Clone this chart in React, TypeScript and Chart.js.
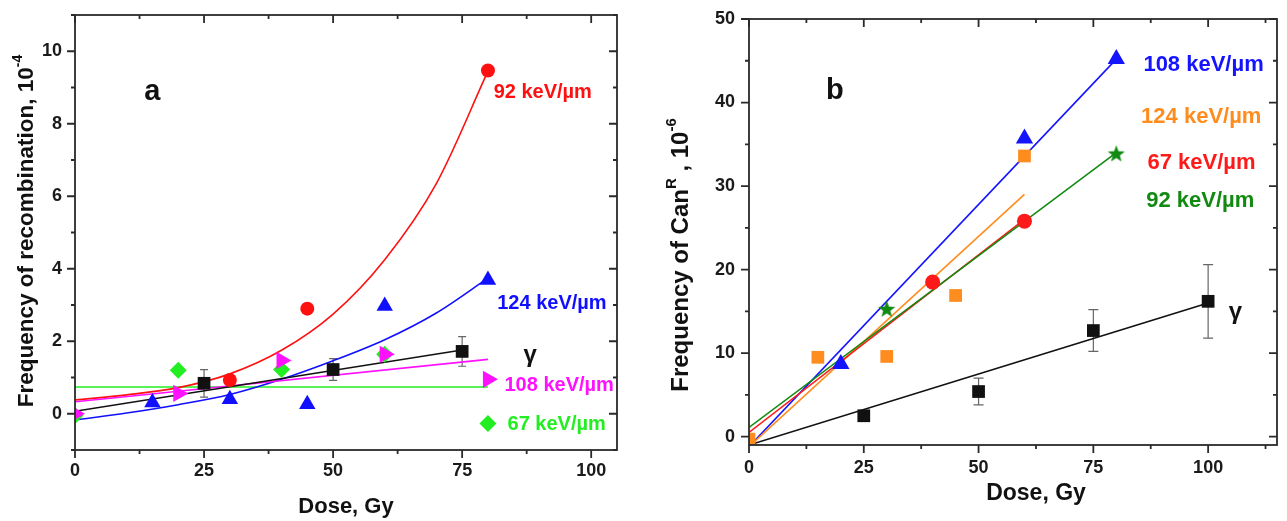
import React, { useEffect, useRef } from "react";
import { Chart, registerables } from "chart.js";
Chart.register(...registerables);

// ---------------- Panel a : frequency of recombination ----------------
const aTickX = [0, 25, 50, 75, 100];
const aTickY = [0, 2, 4, 6, 8, 10];

const a92X = [30, 45, 80];
const a92Y = [0.93, 2.9, 9.47];
const a92FitX = [0, 10, 20, 30, 40, 50, 60, 70, 80];
const a92FitY = [0.38, 0.52, 0.72, 1.1, 1.75, 2.75, 4.25, 6.35, 9.45];

const a124X = [15, 30, 45, 60, 80];
const a124Y = [0.31, 0.4, 0.26, 2.97, 3.69];
const a124FitX = [0, 10, 20, 30, 40, 50, 60, 70, 80];
const a124FitY = [-0.17, 0.02, 0.25, 0.53, 0.95, 1.46, 2.04, 2.78, 3.74];

const a108X = [0, 20, 40, 60, 80];
const a108Y = [0, 0.56, 1.47, 1.64, 0.95];
const a108FitX = [0, 80];
const a108FitY = [0.33, 1.5];

const a67X = [0, 20, 40, 60, 80];
const a67Y = [-0.05, 1.2, 1.22, 1.64, -0.27];
const a67FitX = [0, 80];
const a67FitY = [0.74, 0.74];

const aGammaX = [25, 50, 75];
const aGammaY = [0.84, 1.22, 1.72];
const aGammaErr = [0.38, 0.3, 0.41];
const aGammaFitX = [0, 75];
const aGammaFitY = [0.07, 1.76];

// ---------------- Panel b : frequency of CanR ----------------
const bTickX = [0, 25, 50, 75, 100];
const bTickY = [0, 10, 20, 30, 40, 50];

const b108X = [20, 60, 80];
const b108Y = [8.7, 35.7, 45.2];
const b108FitX = [0, 80];
const b108FitY = [-1.2, 45.2];

const b124X = [0, 15, 30, 45, 60];
const b124Y = [-0.3, 9.5, 9.6, 16.9, 33.6];
const b124FitX = [0, 60];
const b124FitY = [-1.2, 29.0];

const b67X = [40, 60];
const b67Y = [18.5, 25.8];
const b67FitX = [0, 60];
const b67FitY = [0.5, 26.0];

const b92X = [30, 80];
const b92Y = [15.3, 33.9];
const b92FitX = [0, 80];
const b92FitY = [1.1, 34.0];

const bGammaX = [25, 50, 75, 100];
const bGammaY = [2.5, 5.4, 12.7, 16.2];
const bGammaErr = [0.4, 1.6, 2.5, 4.4];
const bGammaFitX = [0, 100];
const bGammaFitY = [-1.0, 16.0];

// ---------------- helpers ----------------
const FONT = "'Liberation Sans', Arial, sans-serif";
const pts = (xs: number[], ys: number[]) => xs.map((x, i) => ({ x, y: ys[i] }));

const fitDs = (xs: number[], ys: number[], color: string, width = 1.6) => ({
  type: "line",
  data: pts(xs, ys),
  borderColor: color,
  borderWidth: width,
  pointRadius: 0,
  fill: false,
  cubicInterpolationMode: "monotone",
  showLine: true,
});

const markDs = (xs: number[], ys: number[], color: string, style: any, r: number, rot = 0) => ({
  type: "scatter",
  data: pts(xs, ys),
  backgroundColor: color,
  borderColor: color,
  borderWidth: 0,
  pointStyle: style,
  pointRadius: r,
  pointRotation: rot,
  showLine: false,
});

function makeStar(size: number, color: string) {
  const c = document.createElement("canvas");
  c.width = size;
  c.height = size;
  const g = c.getContext("2d")!;
  g.fillStyle = color;
  g.beginPath();
  const cx = size / 2, cy = size / 2 + 0.8, R = size / 2, r = R * 0.42;
  for (let i = 0; i < 10; i++) {
    const ang = -Math.PI / 2 + (i * Math.PI) / 5;
    const rad = i % 2 === 0 ? R : r;
    g.lineTo(cx + rad * Math.cos(ang), cy + rad * Math.sin(ang));
  }
  g.closePath();
  g.fill();
  return c;
}

type Label = { text: string; x: number; y: number; color: string; size: number; align?: CanvasTextAlign };
type Deco = {
  xMinor: number;
  yMinor: number;
  xMajor: number[];
  yMajor: number[];
  errors: { xs: number[]; ys: number[]; errs: number[]; cap: number }[];
  labels: Label[];
  xTitle: { text: string; x: number; y: number; size: number };
  yTitle: { parts: { t: string; sup?: boolean }[]; x: number; y: number; size: number };
};

function makeDeco(cfg: Deco) {
  return {
    id: "deco",
    beforeDatasetsDraw(chart: any) {
      const { ctx } = chart;
      const xs = chart.scales.x, ys = chart.scales.y;
      ctx.save();
      ctx.strokeStyle = "#666";
      ctx.lineWidth = 1.2;
      for (const e of cfg.errors) {
        e.xs.forEach((xv, i) => {
          const px = xs.getPixelForValue(xv);
          const t = ys.getPixelForValue(e.ys[i] + e.errs[i]);
          const b = ys.getPixelForValue(e.ys[i] - e.errs[i]);
          ctx.beginPath();
          ctx.moveTo(px, t);
          ctx.lineTo(px, b);
          ctx.moveTo(px - e.cap, t);
          ctx.lineTo(px + e.cap, t);
          ctx.moveTo(px - e.cap, b);
          ctx.lineTo(px + e.cap, b);
          ctx.stroke();
        });
      }
      ctx.restore();
    },
    afterDraw(chart: any) {
      const { ctx, chartArea } = chart;
      const { left, right, top, bottom } = chartArea;
      const xs = chart.scales.x, ys = chart.scales.y;
      ctx.save();
      ctx.strokeStyle = "#2a2a2a";
      ctx.lineWidth = 1.8;
      ctx.strokeRect(left, top, right - left, bottom - top);
      ctx.beginPath();
      const isMajor = (arr: number[], v: number) => arr.some((m) => Math.abs(m - v) < 1e-6);
      for (let v = Math.ceil(xs.min / cfg.xMinor) * cfg.xMinor; v <= xs.max + 1e-9; v += cfg.xMinor) {
        const L = isMajor(cfg.xMajor, v) ? 8 : 4;
        const p = xs.getPixelForValue(v);
        ctx.moveTo(p, bottom);
        ctx.lineTo(p, bottom + L);
        ctx.moveTo(p, top);
        ctx.lineTo(p, top + L);
      }
      for (let v = Math.ceil(ys.min / cfg.yMinor) * cfg.yMinor; v <= ys.max + 1e-9; v += cfg.yMinor) {
        const L = isMajor(cfg.yMajor, v) ? 8 : 4;
        const p = ys.getPixelForValue(v);
        ctx.moveTo(left, p);
        ctx.lineTo(left - L, p);
        ctx.moveTo(right, p);
        ctx.lineTo(right - L, p);
      }
      ctx.stroke();

      ctx.textBaseline = "middle";
      for (const l of cfg.labels) {
        ctx.font = `bold ${l.size}px ${FONT}`;
        ctx.fillStyle = l.color;
        ctx.textAlign = l.align || "left";
        ctx.fillText(l.text, xs.getPixelForValue(l.x), ys.getPixelForValue(l.y));
      }

      ctx.fillStyle = "#111";
      ctx.textAlign = "center";
      ctx.font = `bold ${cfg.xTitle.size}px ${FONT}`;
      ctx.fillText(cfg.xTitle.text, cfg.xTitle.x, cfg.xTitle.y);

      const t = cfg.yTitle;
      ctx.translate(t.x, t.y);
      ctx.rotate(-Math.PI / 2);
      const base = `bold ${t.size}px ${FONT}`;
      const sup = `bold ${Math.round(t.size * 0.62)}px ${FONT}`;
      const widths = t.parts.map((p) => {
        ctx.font = p.sup ? sup : base;
        return ctx.measureText(p.t).width;
      });
      const total = widths.reduce((a, b) => a + b, 0);
      let cx = -total / 2;
      ctx.textAlign = "left";
      t.parts.forEach((p, i) => {
        ctx.font = p.sup ? sup : base;
        ctx.fillText(p.t, cx, p.sup ? -t.size * 0.4 : 0);
        cx += widths[i];
      });
      ctx.restore();
    },
  };
}

function axes(
  xMin: number, xMax: number, yMin: number, yMax: number,
  xTicks: number[], yTicks: number[], yW: number, xH: number, yPad: number, xPad: number
) {
  const tickFont = { family: FONT, size: 18, weight: "bold" as const };
  return {
    x: {
      type: "linear",
      min: xMin,
      max: xMax,
      grid: { display: false, drawTicks: false },
      border: { display: false },
      ticks: { font: tickFont, color: "#1a1a1a", padding: xPad, maxRotation: 0 },
      afterBuildTicks: (s: any) => { s.ticks = xTicks.map((v) => ({ value: v })); },
      afterFit: (s: any) => { s.height = xH; s.paddingLeft = 0; s.paddingRight = 0; },
    },
    y: {
      type: "linear",
      min: yMin,
      max: yMax,
      grid: { display: false, drawTicks: false },
      border: { display: false },
      ticks: { font: tickFont, color: "#1a1a1a", padding: yPad },
      afterBuildTicks: (s: any) => { s.ticks = yTicks.map((v) => ({ value: v })); },
      afterFit: (s: any) => { s.width = yW; s.paddingTop = 0; s.paddingBottom = 0; },
    },
  };
}

function configA(): any {
  const red = "#ff1010", blue = "#1010ff", mag = "#ff10ff", green = "#22ee22", blk = "#111";
  return {
    type: "scatter",
    data: {
      datasets: [
        markDs(aGammaX, aGammaY, blk, "rect", 9),
        markDs(a92X, a92Y, red, "circle", 7),
        markDs(a124X, a124Y, blue, "triangle", 9.5),
        markDs(a108X, a108Y, mag, "triangle", 10, 90),
        markDs(a67X, a67Y, green, "rectRot", 8.5),
        fitDs(aGammaFitX, aGammaFitY, blk),
        fitDs(a108FitX, a108FitY, mag),
        fitDs(a124FitX, a124FitY, blue),
        fitDs(a92FitX, a92FitY, red),
        fitDs(a67FitX, a67FitY, green),
      ],
    },
    options: {
      responsive: false,
      animation: false,
      events: [],
      layout: { padding: { left: 0, top: 15, right: 23, bottom: 0 } },
      plugins: { legend: { display: false }, tooltip: { enabled: false } },
      scales: axes(0, 105, -1, 11, aTickX, aTickY, 75, 71, 13, 10),
    },
    plugins: [
      makeDeco({
        xMinor: 12.5,
        yMinor: 1,
        xMajor: aTickX,
        yMajor: aTickY,
        errors: [{ xs: aGammaX, ys: aGammaY, errs: aGammaErr, cap: 4 }],
        labels: [
          { text: "a", x: 15, y: 8.87, color: "#111", size: 29, align: "center" },
          { text: "92 keV/\u00b5m", x: 81.1, y: 8.86, color: red, size: 20 },
          { text: "124 keV/\u00b5m", x: 81.8, y: 3.05, color: blue, size: 20 },
          { text: "\u03b3", x: 86.9, y: 1.6, color: "#111", size: 24 },
          { text: "108 keV/\u00b5m", x: 83.2, y: 0.78, color: mag, size: 20 },
          { text: "67 keV/\u00b5m", x: 83.8, y: -0.3, color: green, size: 20 },
        ],
        xTitle: { text: "Dose, Gy", x: 346, y: 507, size: 22 },
        yTitle: { parts: [{ t: "Frequency of recombination, 10" }, { t: "-4", sup: true }], x: 27, y: 231, size: 22.5 },
      }),
    ],
  };
}

function configB(): any {
  const red = "#ff1a1a", blue = "#1414ff", orange = "#ff8c1e", green = "#128a12", blk = "#111";
  return {
    type: "scatter",
    data: {
      datasets: [
        markDs(bGammaX, bGammaY, blk, "rect", 9),
        markDs(b108X, b108Y, blue, "triangle", 10),
        markDs(b124X, b124Y, orange, "rect", 9),
        markDs(b67X, b67Y, red, "circle", 7.5),
        markDs(b92X, b92Y, green, makeStar(18, green), 9),
        fitDs(bGammaFitX, bGammaFitY, blk),
        fitDs(b92FitX, b92FitY, green),
        fitDs(b67FitX, b67FitY, red),
        fitDs(b124FitX, b124FitY, orange),
        fitDs(b108FitX, b108FitY, blue),
      ],
    },
    options: {
      responsive: false,
      animation: false,
      events: [],
      layout: { padding: { left: 0, top: 19, right: 10, bottom: 0 } },
      plugins: { legend: { display: false }, tooltip: { enabled: false } },
      scales: axes(0, 115, -1, 50, bTickX, bTickY, 109, 76, 14, 12),
    },
    plugins: [
      makeDeco({
        xMinor: 12.5,
        yMinor: 5,
        xMajor: bTickX,
        yMajor: bTickY,
        errors: [{ xs: bGammaX, ys: bGammaY, errs: bGammaErr, cap: 5 }],
        labels: [
          { text: "b", x: 18.7, y: 41.4, color: "#111", size: 29, align: "center" },
          { text: "108 keV/\u00b5m", x: 85.9, y: 44.5, color: blue, size: 22 },
          { text: "124 keV/\u00b5m", x: 85.4, y: 38.3, color: orange, size: 22 },
          { text: "67 keV/\u00b5m", x: 86.8, y: 32.8, color: red, size: 22 },
          { text: "92 keV/\u00b5m", x: 86.5, y: 28.2, color: green, size: 22 },
          { text: "\u03b3", x: 104.5, y: 14.9, color: "#111", size: 24 },
        ],
        xTitle: { text: "Dose, Gy", x: 396, y: 494, size: 23 },
        yTitle: {
          parts: [{ t: "Frequency of Can" }, { t: "R", sup: true }, { t: " , 10" }, { t: "-6", sup: true }],
          x: 41,
          y: 255,
          size: 24,
        },
      }),
    ],
  };
}

function Panel({ make, left, width }: { make: () => any; left: number; width: number }) {
  const ref = useRef<HTMLCanvasElement>(null);
  useEffect(() => {
    const chart = new Chart(ref.current as HTMLCanvasElement, make());
    return () => chart.destroy();
  }, []);
  return (
    <canvas
      ref={ref}
      width={width}
      height={521}
      style={{ position: "absolute", left, top: 0, width, height: 521, display: "block" }}
    />
  );
}

export default function App() {
  return (
    <div style={{ position: "fixed", left: 0, top: 0, width: 1287, height: 521, background: "#fff" }}>
      <Panel make={configA} left={0} width={640} />
      <Panel make={configB} left={640} width={647} />
    </div>
  );
}
